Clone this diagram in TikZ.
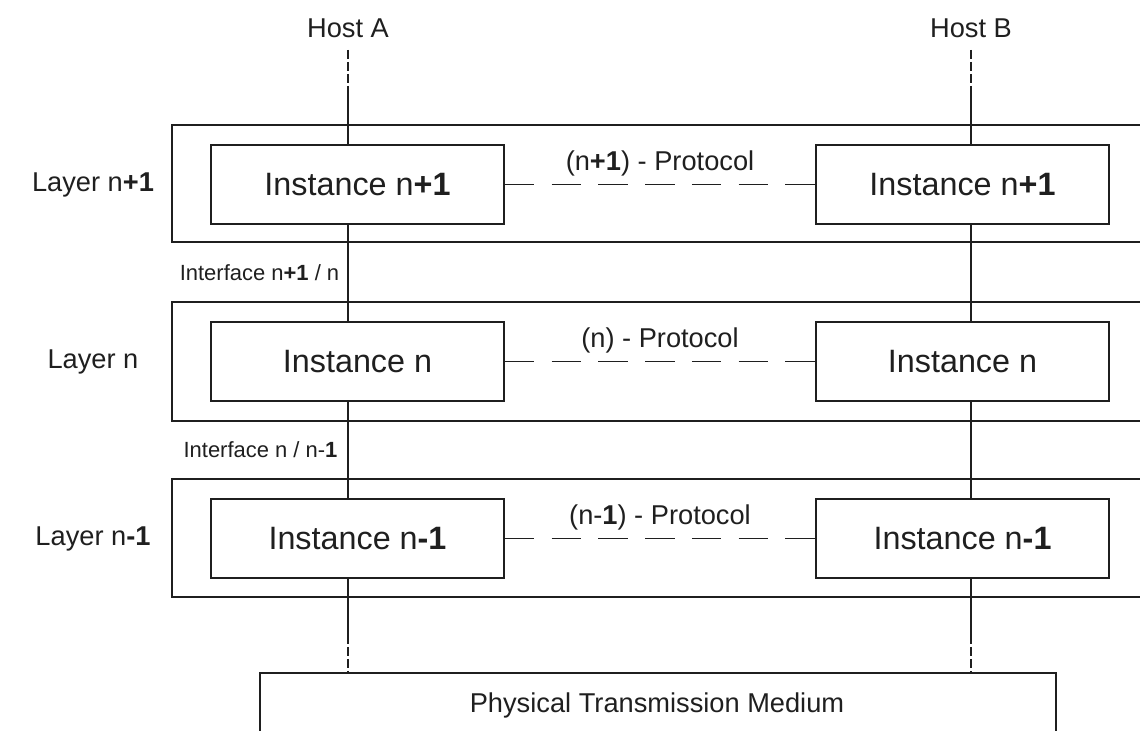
\documentclass[tikz,border=0pt]{standalone}
\usepackage{fontspec}
\setmainfont{Liberation Sans}
\usetikzlibrary{positioning,calc}
\tikzset{
  block/.style={align=center,rectangle,draw,minimum height=1.58cm,minimum width=5.86cm,font=\fontsize{18.4}{22}\selectfont},
  lbl/.style={font=\fontsize{15.5}{18}\selectfont},
  smalllbl/.style={font=\fontsize{12.5}{15}\selectfont},
  protoline/.style={dash pattern=on 0.59cm off 0.345cm},
  hostline/.style={dash pattern=on 0.18cm off 0.06cm},
  mythick/.style={line width=1.1pt}
}

\begin{document}
\begin{tikzpicture}[mythick, color=black!88]
    \useasboundingbox (0,0) rectangle (22.8,-14.62);

    \node at (6.96, -0.56) [lbl] (hostA) {Host A};
    \node at (19.42, -0.56) [lbl] (hostB) {Host B};

    % layer frames, open to the right
    \draw (22.8,-2.5) -| (3.44,-4.84) -- (22.8,-4.84);
    \draw (22.8,-6.04) -| (3.44,-8.42) -- (22.8,-8.42);
    \draw (22.8,-9.58) -| (3.44,-11.94) -- (22.8,-11.94);

    \node at (1.86, -3.69) [lbl] (L1) {Layer n\textbf{+1}};
    \node at (1.86, -7.23) [lbl] (L2) {Layer n};
    \node at (1.86, -10.77) [lbl] (L3) {Layer n\textbf{-1}};

    \node at (7.15, -3.69) [block] (i1a) {Instance n\textbf{+1}};
    \node at (19.25, -3.69) [block] (i1b) {Instance n\textbf{+1}};
    \node at (7.15, -7.23) [block] (i2a) {Instance n};
    \node at (19.25, -7.23) [block] (i2b) {Instance n};
    \node at (7.15, -10.77) [block] (i3a) {Instance n\textbf{-1}};
    \node at (19.25, -10.77) [block] (i3b) {Instance n\textbf{-1}};

    \node at (5.19, -5.46) [smalllbl] (if1) {Interface n\textbf{+1} / n};
    \node at (5.21, -9.0) [smalllbl] (if2) {Interface n / n-\textbf{1}};

    \draw[protoline] (i1a) -- node[lbl, above=4pt, inner sep=0pt] (p1) {(n\textbf{+1}) - Protocol} (i1b);
    \draw[protoline] (i2a) -- node[lbl, above=4pt, inner sep=0pt] (p2) {(n) - Protocol} (i2b);
    \draw[protoline] (i3a) -- node[lbl, above=4pt, inner sep=0pt] (p3) {(n-\textbf{1}) - Protocol} (i3b);

    % host axes
    \coordinate (a0) at (6.96,-1.0);
    \coordinate (a1) at (6.96,-1.74);
    \coordinate (a2) at (6.96,-12.7);
    \coordinate (a3) at (6.96,-13.46);
    \coordinate (b0) at (19.42,-1.0);
    \coordinate (b1) at (19.42,-1.74);
    \coordinate (b2) at (19.42,-12.7);
    \coordinate (b3) at (19.42,-13.46);

    \draw[hostline] (a0) -- (a1);
    \draw (a1) -- (i1a.north -| a1);
    \draw (i1a.south -| a1) -- (i2a.north -| a1);
    \draw (i2a.south -| a1) -- (i3a.north -| a1);
    \draw (i3a.south -| a1) -- (a2);
    \draw[hostline] (a2) -- (a3);

    \draw[hostline] (b0) -- (b1);
    \draw (b1) -- (i1b.north -| b1);
    \draw (i1b.south -| b1) -- (i2b.north -| b1);
    \draw (i2b.south -| b1) -- (i3b.north -| b1);
    \draw (i3b.south -| b1) -- (b2);
    \draw[hostline] (b2) -- (b3);

    % physical medium, cut off at the bottom
    \draw (5.2,-14.62) |- (21.12,-13.46) -- (21.12,-14.62);
    \node at (13.14, -14.1) [lbl] (phys) {Physical Transmission Medium};
\end{tikzpicture}
\end{document}
